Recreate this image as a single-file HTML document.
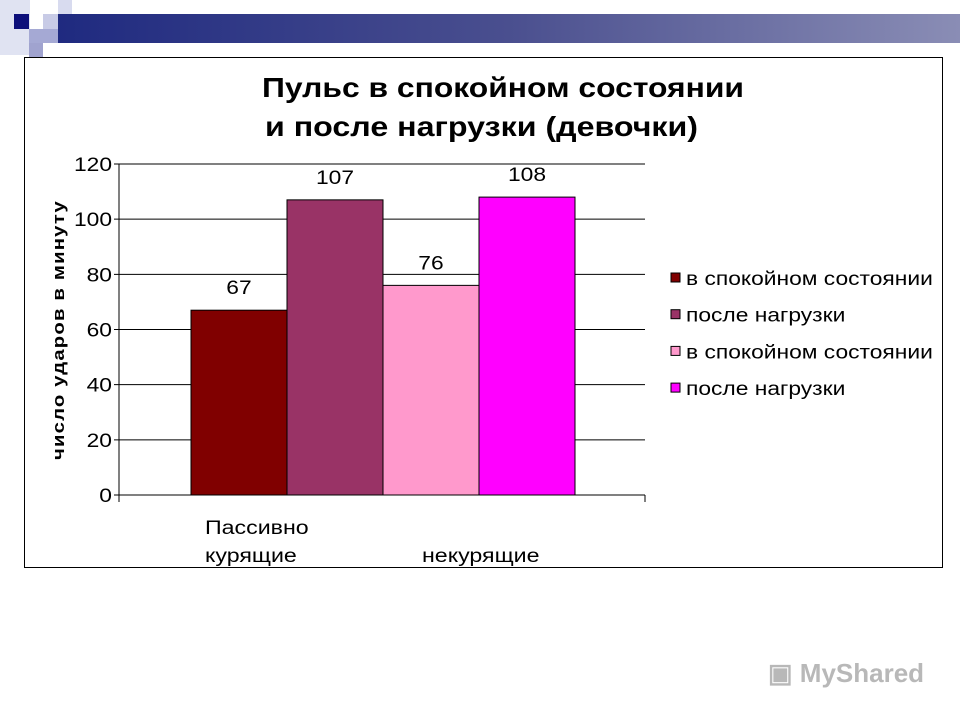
<!DOCTYPE html>
<html><head><meta charset="utf-8"><style>
body{margin:0;width:960px;height:720px;background:#fff;overflow:hidden;font-family:"Liberation Sans",sans-serif;position:relative}
.abs{position:absolute}
</style></head><body>
<div class="abs" style="left:58px;top:14px;width:902px;height:29px;background:linear-gradient(90deg,#1f2a80,#4a4f8f 50%,#8a8db5)"></div>
<div class="abs" style="left:0;top:0;width:30px;height:55px;background:#e0e3f2"></div>
<div class="abs" style="left:14px;top:14px;width:15px;height:15px;background:#0c0f7a"></div>
<div class="abs" style="left:43px;top:14px;width:15px;height:15px;background:#c8cbe6"></div>
<div class="abs" style="left:29px;top:29px;width:29px;height:14px;background:#a5a9d4"></div>
<div class="abs" style="left:29px;top:43px;width:14px;height:14px;background:#a0a3cf"></div>
<div class="abs" style="left:58px;top:0;width:14px;height:14px;background:#d8dbef"></div>

<div class="abs" style="left:24px;top:57px;width:917px;height:509px;border:1px solid #000"></div>

<svg class="abs" style="left:0;top:0" width="960" height="720" id="chart"></svg>

<div class="abs" style="left:768px;top:658px;font-size:26px;color:#b8b8b8;font-weight:bold">▣ MyShared</div>

<script>
const categories=["Пассивно курящие","некурящие"];
const seriesNames=["в спокойном состоянии","после нагрузки","в спокойном состоянии","после нагрузки"];
const seriesColors=["#800000","#993366","#ff99cc","#ff00ff"];
const seriesValues=[67,107,76,108];
const barCategory=[0,0,1,1];
const yTicks=[0,20,40,60,80,100,120];
const NS="http://www.w3.org/2000/svg";
const svg=document.getElementById('chart');
const x0=119,x1=645,y0=495,yTop=164,yMax=120;
const y=v=>y0-(v/yMax)*(y0-yTop);
const groupStart=[191,383],barW=96;
function mk(t,a){const e=document.createElementNS(NS,t);for(const k in a)e.setAttribute(k,a[k]);svg.appendChild(e);return e;}
function stretch(e,k){const w=e.getComputedTextLength();e.setAttribute('textLength',w*k);e.setAttribute('lengthAdjust','spacingAndGlyphs');}
const FS=19,K=1.2;
yTicks.forEach(t=>{
 const l=mk('line',{x1:x0-5,x2:x1,y1:y(t),y2:y(t),stroke:'#000','stroke-width':1});
 
 
 const tx=mk('text',{x:x0-7,y:y(t)+7,'text-anchor':'end','font-size':FS,'font-family':'Liberation Sans'});
 tx.textContent=t;
 
 
 stretch(tx,K);
});
const ax=mk('line',{x1:x0,x2:x0,y1:yTop,y2:y0+7,stroke:'#000'});


const tr=mk('line',{x1:x1,x2:x1,y1:y0,y2:y0+7,stroke:'#000'});


let idx=[0,0];
seriesValues.forEach((v,i)=>{
 const c=barCategory[i];const bx=groupStart[c]+idx[c]*barW;idx[c]++;
 const r=mk('rect',{x:bx,y:y(v),width:barW,height:y0-y(v),fill:seriesColors[i],stroke:'#000','stroke-width':1});
 
 
 const t=mk('text',{x:bx+barW/2,y:y(v)-16,'text-anchor':'middle','font-size':FS,'font-family':'Liberation Sans'});
 t.textContent=v;
 
 
 stretch(t,K);
});
const catPos=[[205,[534,562]],[422,[562]]];
categories.forEach((c,i)=>{
 const words=i===0?c.split(' '):[c];
 words.forEach((w,j)=>{
  const t=mk('text',{x:catPos[i][0],y:catPos[i][1][j],'font-size':FS,'font-family':'Liberation Sans'});
  t.textContent=w;
  
  
  stretch(t,1.22);
 });
});
const yt=mk('text',{x:0,y:0,transform:'translate(64,330) rotate(-90)','text-anchor':'middle','font-size':17,'font-weight':'bold','font-family':'Liberation Sans','letter-spacing':'1'});
yt.textContent='число ударов в минуту';


yt.setAttribute('textLength',260);yt.setAttribute('lengthAdjust','spacingAndGlyphs');
seriesNames.forEach((n,i)=>{
 const ly=278+i*36.7;
 const s=mk('rect',{x:671,y:ly-5,width:9,height:9,fill:seriesColors[i],stroke:'#000'});
 
 
 const t=mk('text',{x:686,y:ly+7,'font-size':FS,'font-family':'Liberation Sans'});
 t.textContent=n;
 
 
 stretch(t,1.2);
});
const t1=mk('text',{x:262,y:97,'font-size':28,'font-weight':'bold','font-family':'Liberation Sans'});
t1.textContent='Пульс в спокойном состоянии';


t1.setAttribute('textLength',482);t1.setAttribute('lengthAdjust','spacingAndGlyphs');
const t2=mk('text',{x:265,y:136,'font-size':28,'font-weight':'bold','font-family':'Liberation Sans'});
t2.textContent='и после нагрузки (девочки)';


t2.setAttribute('textLength',433);t2.setAttribute('lengthAdjust','spacingAndGlyphs');
</script>
</body></html>
